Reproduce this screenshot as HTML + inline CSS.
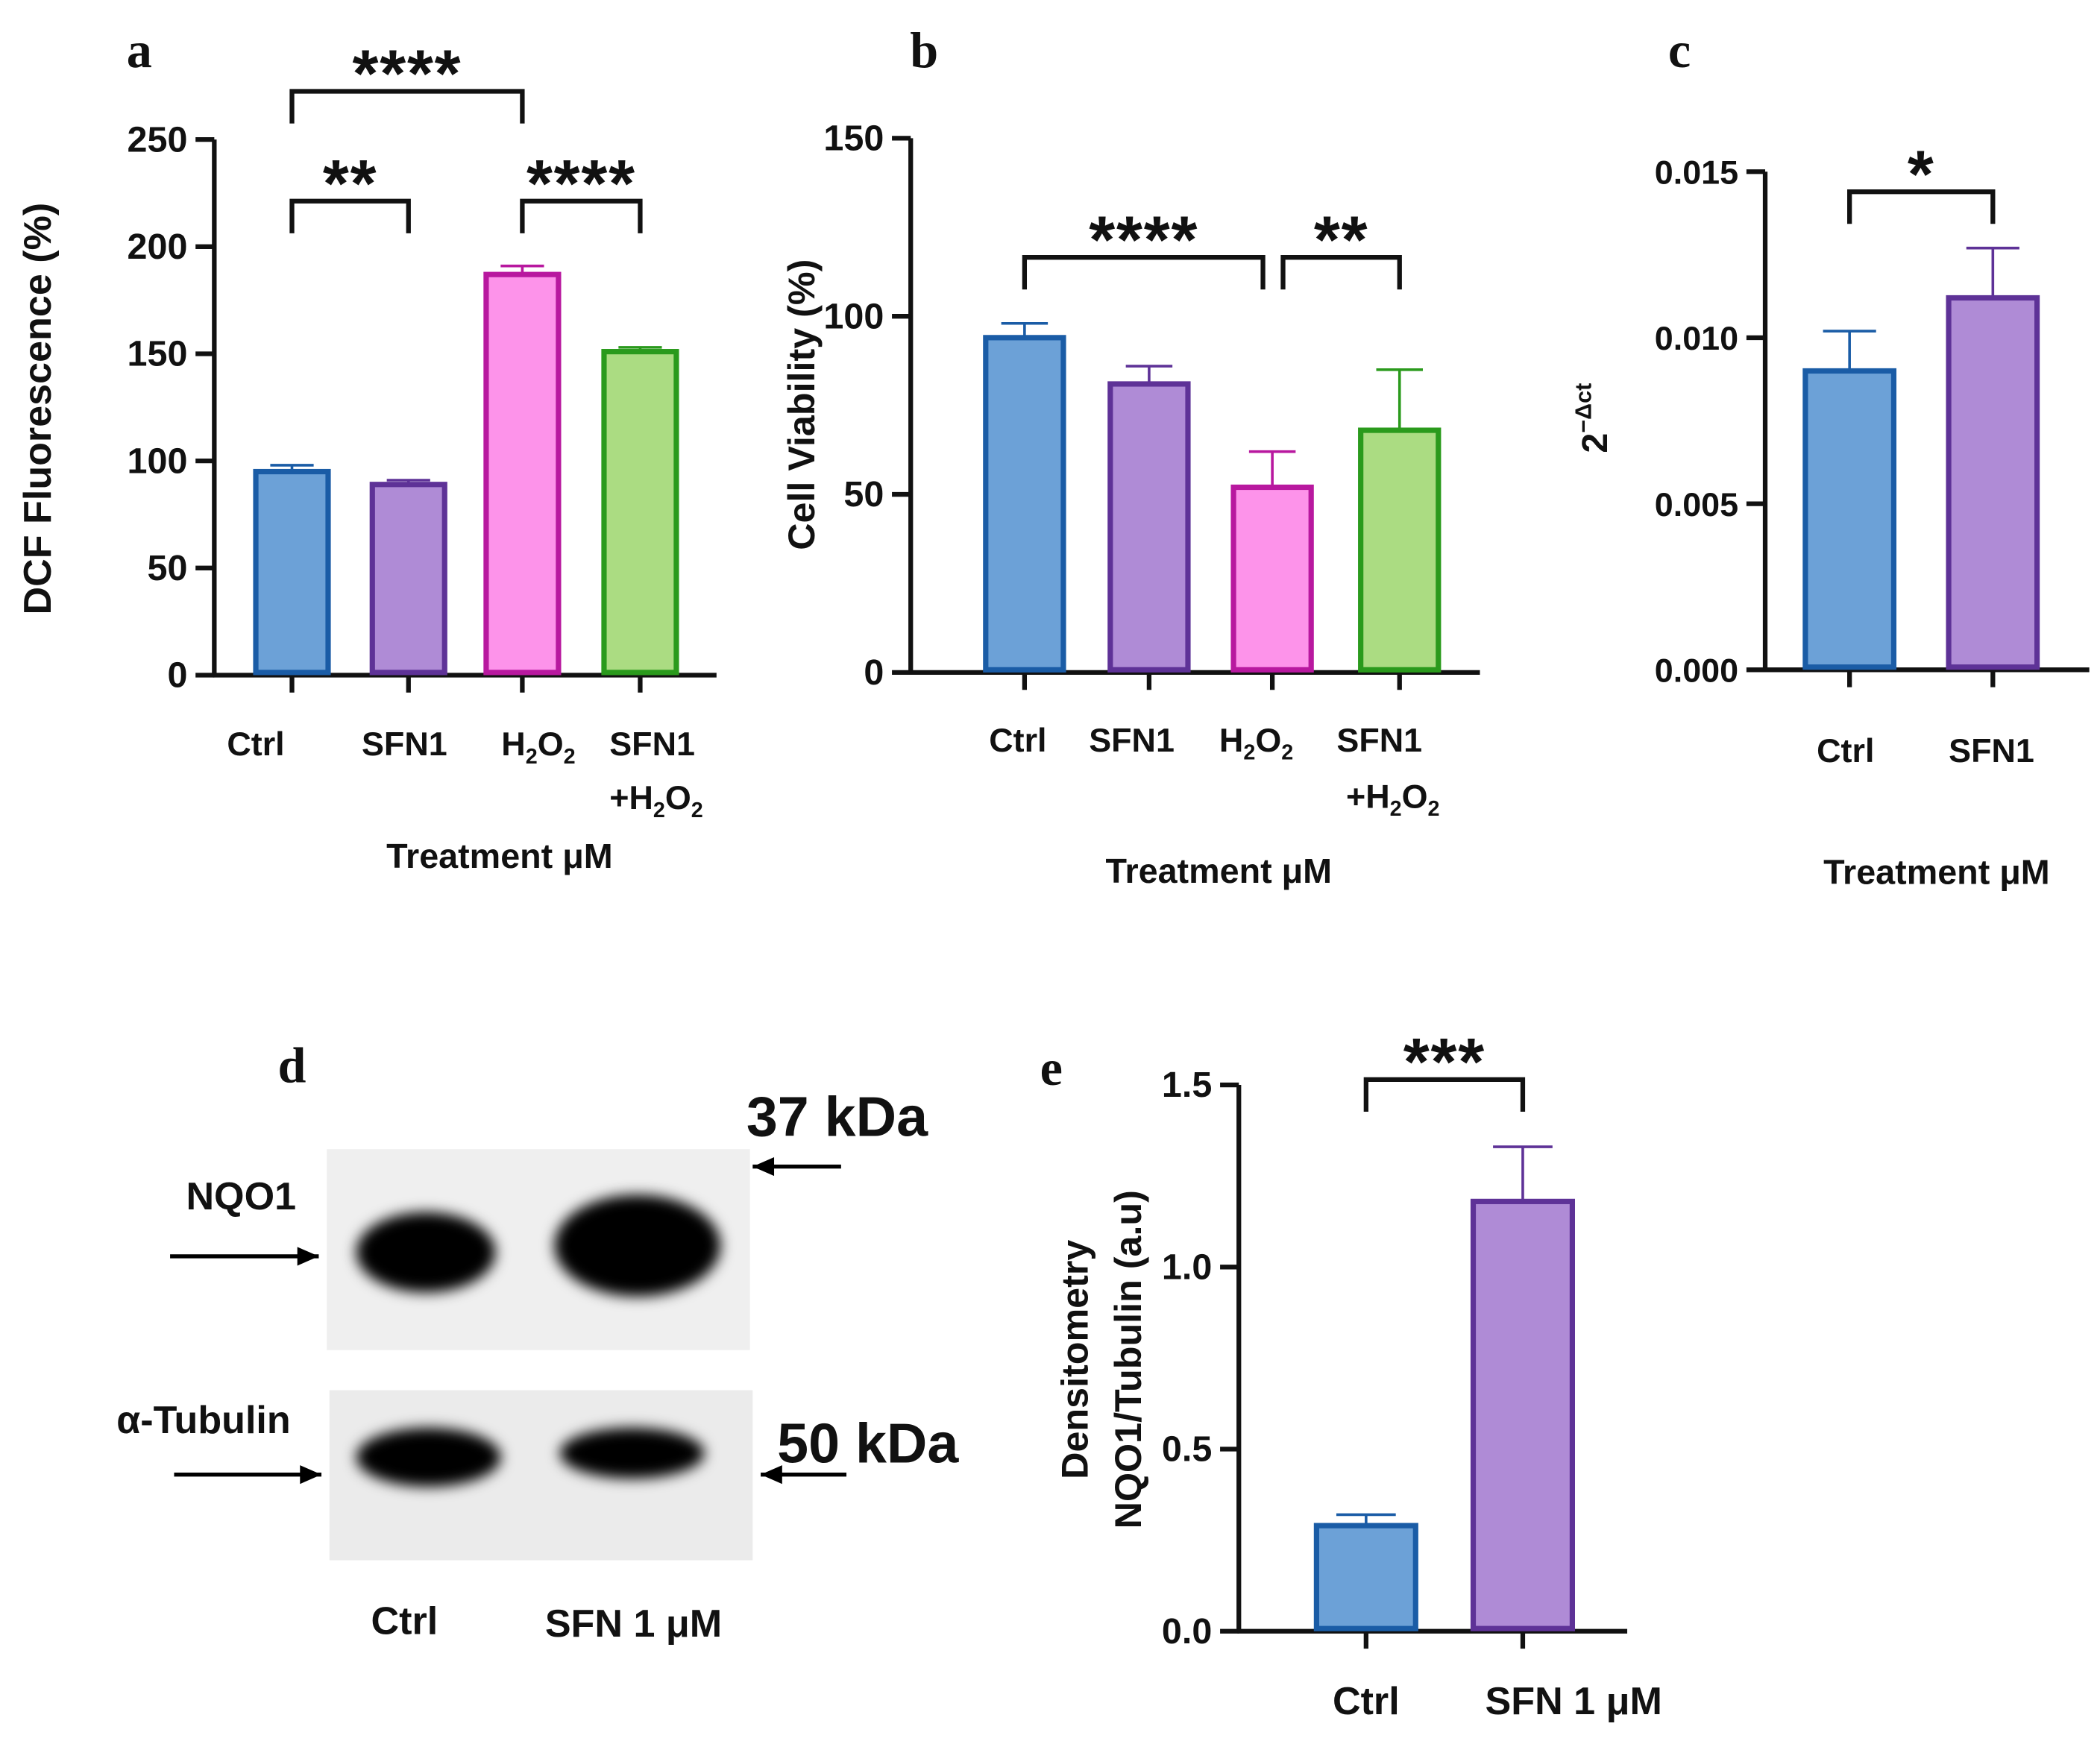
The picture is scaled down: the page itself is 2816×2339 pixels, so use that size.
<!DOCTYPE html>
<html><head><meta charset="utf-8">
<style>
html,body{margin:0;padding:0;background:#fff;}
svg{display:block;}
text{font-family:"Liberation Sans",Arial,sans-serif;font-weight:bold;fill:#111;}
.serif{font-family:"Liberation Serif",serif;}
</style></head>
<body>
<svg id="fig" width="2816" height="2339" viewBox="0 0 1568 1302" xmlns="http://www.w3.org/2000/svg">
<defs>
<filter id="blur" x="-20%" y="-50%" width="140%" height="200%"><feGaussianBlur stdDeviation="5"/></filter>
</defs>
<g id="root"></g>
</svg>
<script>
// Panel a data
const aCats = ["Ctrl","SFN1","H2O2","SFN1+H2O2"];
const aVals = [95, 89, 187, 151];
const aErr = [3, 2, 4, 2];
const aTicks = [0,50,100,150,200,250];
// Panel b data
const bCats = ["Ctrl","SFN1","H2O2","SFN1+H2O2"];
const bVals = [94, 81, 52, 68];
const bErr = [4, 5, 10, 17];
const bTicks = [0,50,100,150];
// Panel c data
const cCats = ["Ctrl","SFN1"];
const cVals = [0.0090, 0.0112];
const cErr = [0.0012, 0.0015];
const cTicks = [0,0.005,0.010,0.015];
const cTickLabels = ["0.000","0.005","0.010","0.015"];
// Panel e data
const eCats = ["Ctrl","SFN 1 μM"];
const eVals = [0.29, 1.18];
const eErr = [0.03, 0.15];
const eTicks = [0,0.5,1.0,1.5];
const eTickLabels = ["0.0","0.5","1.0","1.5"];

const NS="http://www.w3.org/2000/svg";
const root=document.getElementById('root');
function el(tag,attrs,parent){const e=document.createElementNS(NS,tag);for(const k in attrs)e.setAttribute(k,attrs[k]);(parent||root).appendChild(e);return e;}
function txt(x,y,s,size,parent,anchor,extra){const t=el('text',Object.assign({x:x,y:y,'font-size':size,'text-anchor':anchor||'middle'},extra||{}),parent);t.innerHTML=s;return t;}

const fills=["#6ca1d7","#af8bd6","#fd93ea","#abdc82"];
const strokes=["#1a5ca6","#5e3297","#b8189f","#2a9a1c"];

function panel(name,o){
  const g=el('g',{});
  
  
  const y=v=>o.y0-(v-o.min)/(o.max-o.min)*(o.y0-o.y1);
  const ya=el('line',{x1:o.ax,y1:o.y0,x2:o.ax,y2:o.y1,stroke:'#111','stroke-width':3.5},g);
  
  
  o.ticks.forEach((t,i)=>{
    el('line',{x1:o.ax-14,y1:y(t),x2:o.ax,y2:y(t),stroke:'#111','stroke-width':3.5},g);
    const tl=txt(o.ax-20,y(t)+9,o.tickLabels?o.tickLabels[i]:String(t),o.tfs||27,g,'end');
    
    
  });
  const xa=el('line',{x1:o.ax-1,y1:o.y0,x2:o.axEnd,y2:o.y0,stroke:'#111','stroke-width':3.5},g);
  
  
  o.vals.forEach((v,i)=>{
    const cx=o.cx[i];
    el('line',{x1:cx,y1:o.y0,x2:cx,y2:o.y0+13,stroke:'#111','stroke-width':3.5},g);
    const top=y(v+o.err[i]);
    el('line',{x1:cx,y1:y(v),x2:cx,y2:top,stroke:strokes[o.col[i]],'stroke-width':2},g);
    el('line',{x1:cx-o.w*0.3,y1:top,x2:cx+o.w*0.3,y2:top,stroke:strokes[o.col[i]],'stroke-width':2},g);
    const b=el('rect',{x:cx-o.w/2,y:y(v),width:o.w,height:o.y0-y(v)-2,fill:fills[o.col[i]],stroke:strokes[o.col[i]],'stroke-width':4},g);
    
    
  });
  (o.brackets||[]).forEach(br=>{
    const bg=el('path',{d:`M${br[0]},${br[2]+24} V${br[2]} H${br[1]} V${br[2]+24}`,fill:'none',stroke:'#111','stroke-width':3.5},g);
    
    
    const st=txt((br[0]+br[1])/2,br[2]+4,br[3],50,g,'middle',{'letter-spacing':'1'});
    
    
  });
  return g;
}

// a
const ga=panel('panel-a',{ax:160,axEnd:535,y0:504,y1:104,min:0,max:250,ticks:aTicks,vals:aVals,err:aErr,cats:aCats,cx:[218,305,390,478],w:54,col:[0,1,2,3],
  brackets:[[218,390,68,'****'],[218,305,150,'**'],[390,478,150,'****']]});
txt(104,50,'a',38,ga,'middle',{class:'serif'});
txt(191,564,'Ctrl',25,ga);txt(302,564,'SFN1',25,ga);
txt(402,564,'H<tspan font-size="16" dy="6">2</tspan><tspan dy="-6">O</tspan><tspan font-size="16" dy="6">2</tspan>',25,ga);
txt(487,564,'SFN1',25,ga);
txt(490,604,'+H<tspan font-size="16" dy="6">2</tspan><tspan dy="-6">O</tspan><tspan font-size="16" dy="6">2</tspan>',25,ga);
txt(373,648,'Treatment μM',26,ga);
txt(38,305,'DCF Fluorescence (%)',29,ga,'middle',{transform:'rotate(-90 38 305)'});

// b
const gb=panel('panel-b',{ax:680,axEnd:1105,y0:502,y1:103,min:0,max:150,ticks:bTicks,vals:bVals,err:bErr,cats:bCats,cx:[765,858,950,1045],w:58,col:[0,1,2,3],
  brackets:[[765,943,192,'****'],[958,1045,192,'**']]});
txt(690,50,'b',38,gb,'middle',{class:'serif'});
txt(760,561,'Ctrl',25,gb);txt(845,561,'SFN1',25,gb);
txt(938,561,'H<tspan font-size="16" dy="6">2</tspan><tspan dy="-6">O</tspan><tspan font-size="16" dy="6">2</tspan>',25,gb);
txt(1030,561,'SFN1',25,gb);
txt(1040,603,'+H<tspan font-size="16" dy="6">2</tspan><tspan dy="-6">O</tspan><tspan font-size="16" dy="6">2</tspan>',25,gb);
txt(910,659,'Treatment μM',26,gb);
txt(608,302,'Cell Viability (%)',28,gb,'middle',{transform:'rotate(-90 608 302)'});

// c
const gc=panel('panel-c',{ax:1318,axEnd:1560,y0:500,y1:128,min:0,max:0.015,ticks:cTicks,tickLabels:cTickLabels,tfs:25,vals:cVals,err:cErr,cats:cCats,cx:[1381,1488],w:66,col:[0,1],
  brackets:[[1381,1488,143,'*']]});
txt(1254,50,'c',38,gc,'middle',{class:'serif'});
txt(1378,569,'Ctrl',25,gc);txt(1487,569,'SFN1',25,gc);
txt(1446,660,'Treatment μM',26,gc);
txt(1200,312,'2<tspan font-size="17" dy="-12">−Δct</tspan>',27,gc,'middle',{transform:'rotate(-90 1200 312)'});

// e
const ge=panel('panel-e',{ax:925,axEnd:1215,y0:1218,y1:810,min:0,max:1.5,ticks:eTicks,tickLabels:eTickLabels,vals:eVals,err:eErr,cats:eCats,cx:[1020,1137],w:74,col:[0,1],
  brackets:[[1020,1137,806,'***']]});
txt(785,810,'e',38,ge,'middle',{class:'serif'});
txt(1020,1280,'Ctrl',29,ge);txt(1175,1280,'SFN 1 μM',29,ge);
txt(812,1015,'Densitometry',28,ge,'middle',{transform:'rotate(-90 812 1015)'});
txt(852,1015,'NQO1/Tubulin (a.u)',28,ge,'middle',{transform:'rotate(-90 852 1015)'});

// d
const gd=el('g',{});


txt(218,808,'d',38,gd,'middle',{class:'serif'});
el('rect',{x:244,y:858,width:316,height:150,fill:'#efefef'},gd);
el('rect',{x:246,y:1038,width:316,height:127,fill:'#ebebeb'},gd);
el('ellipse',{cx:318,cy:935,rx:52,ry:30,fill:'#000',filter:'url(#blur)'},gd);
el('ellipse',{cx:476,cy:930,rx:62,ry:38,fill:'#000',filter:'url(#blur)'},gd);
el('ellipse',{cx:320,cy:1088,rx:54,ry:22,fill:'#000',filter:'url(#blur)'},gd);
el('ellipse',{cx:472,cy:1085,rx:54,ry:19,fill:'#000',filter:'url(#blur)'},gd);
txt(180,903,'NQO1',29,gd);
txt(152,1070,'α-Tubulin',29,gd);
txt(625,848,'37 kDa',42,gd);
txt(648,1092,'50 kDa',42,gd);
function arrow(x1,x2,yy){el('line',{x1:x1,y1:yy,x2:x2,y2:yy,stroke:'#000','stroke-width':3},gd);const d=x2>x1?1:-1;el('path',{d:`M${x2},${yy} L${x2-d*16},${yy-7} L${x2-d*16},${yy+7} Z`,fill:'#000'},gd);}
arrow(127,238,938);arrow(130,240,1101);
arrow(628,562,871);arrow(632,568,1101);
txt(302,1220,'Ctrl',29,gd);txt(473,1222,'SFN 1 μM',29,gd);
</script>
</body></html>
